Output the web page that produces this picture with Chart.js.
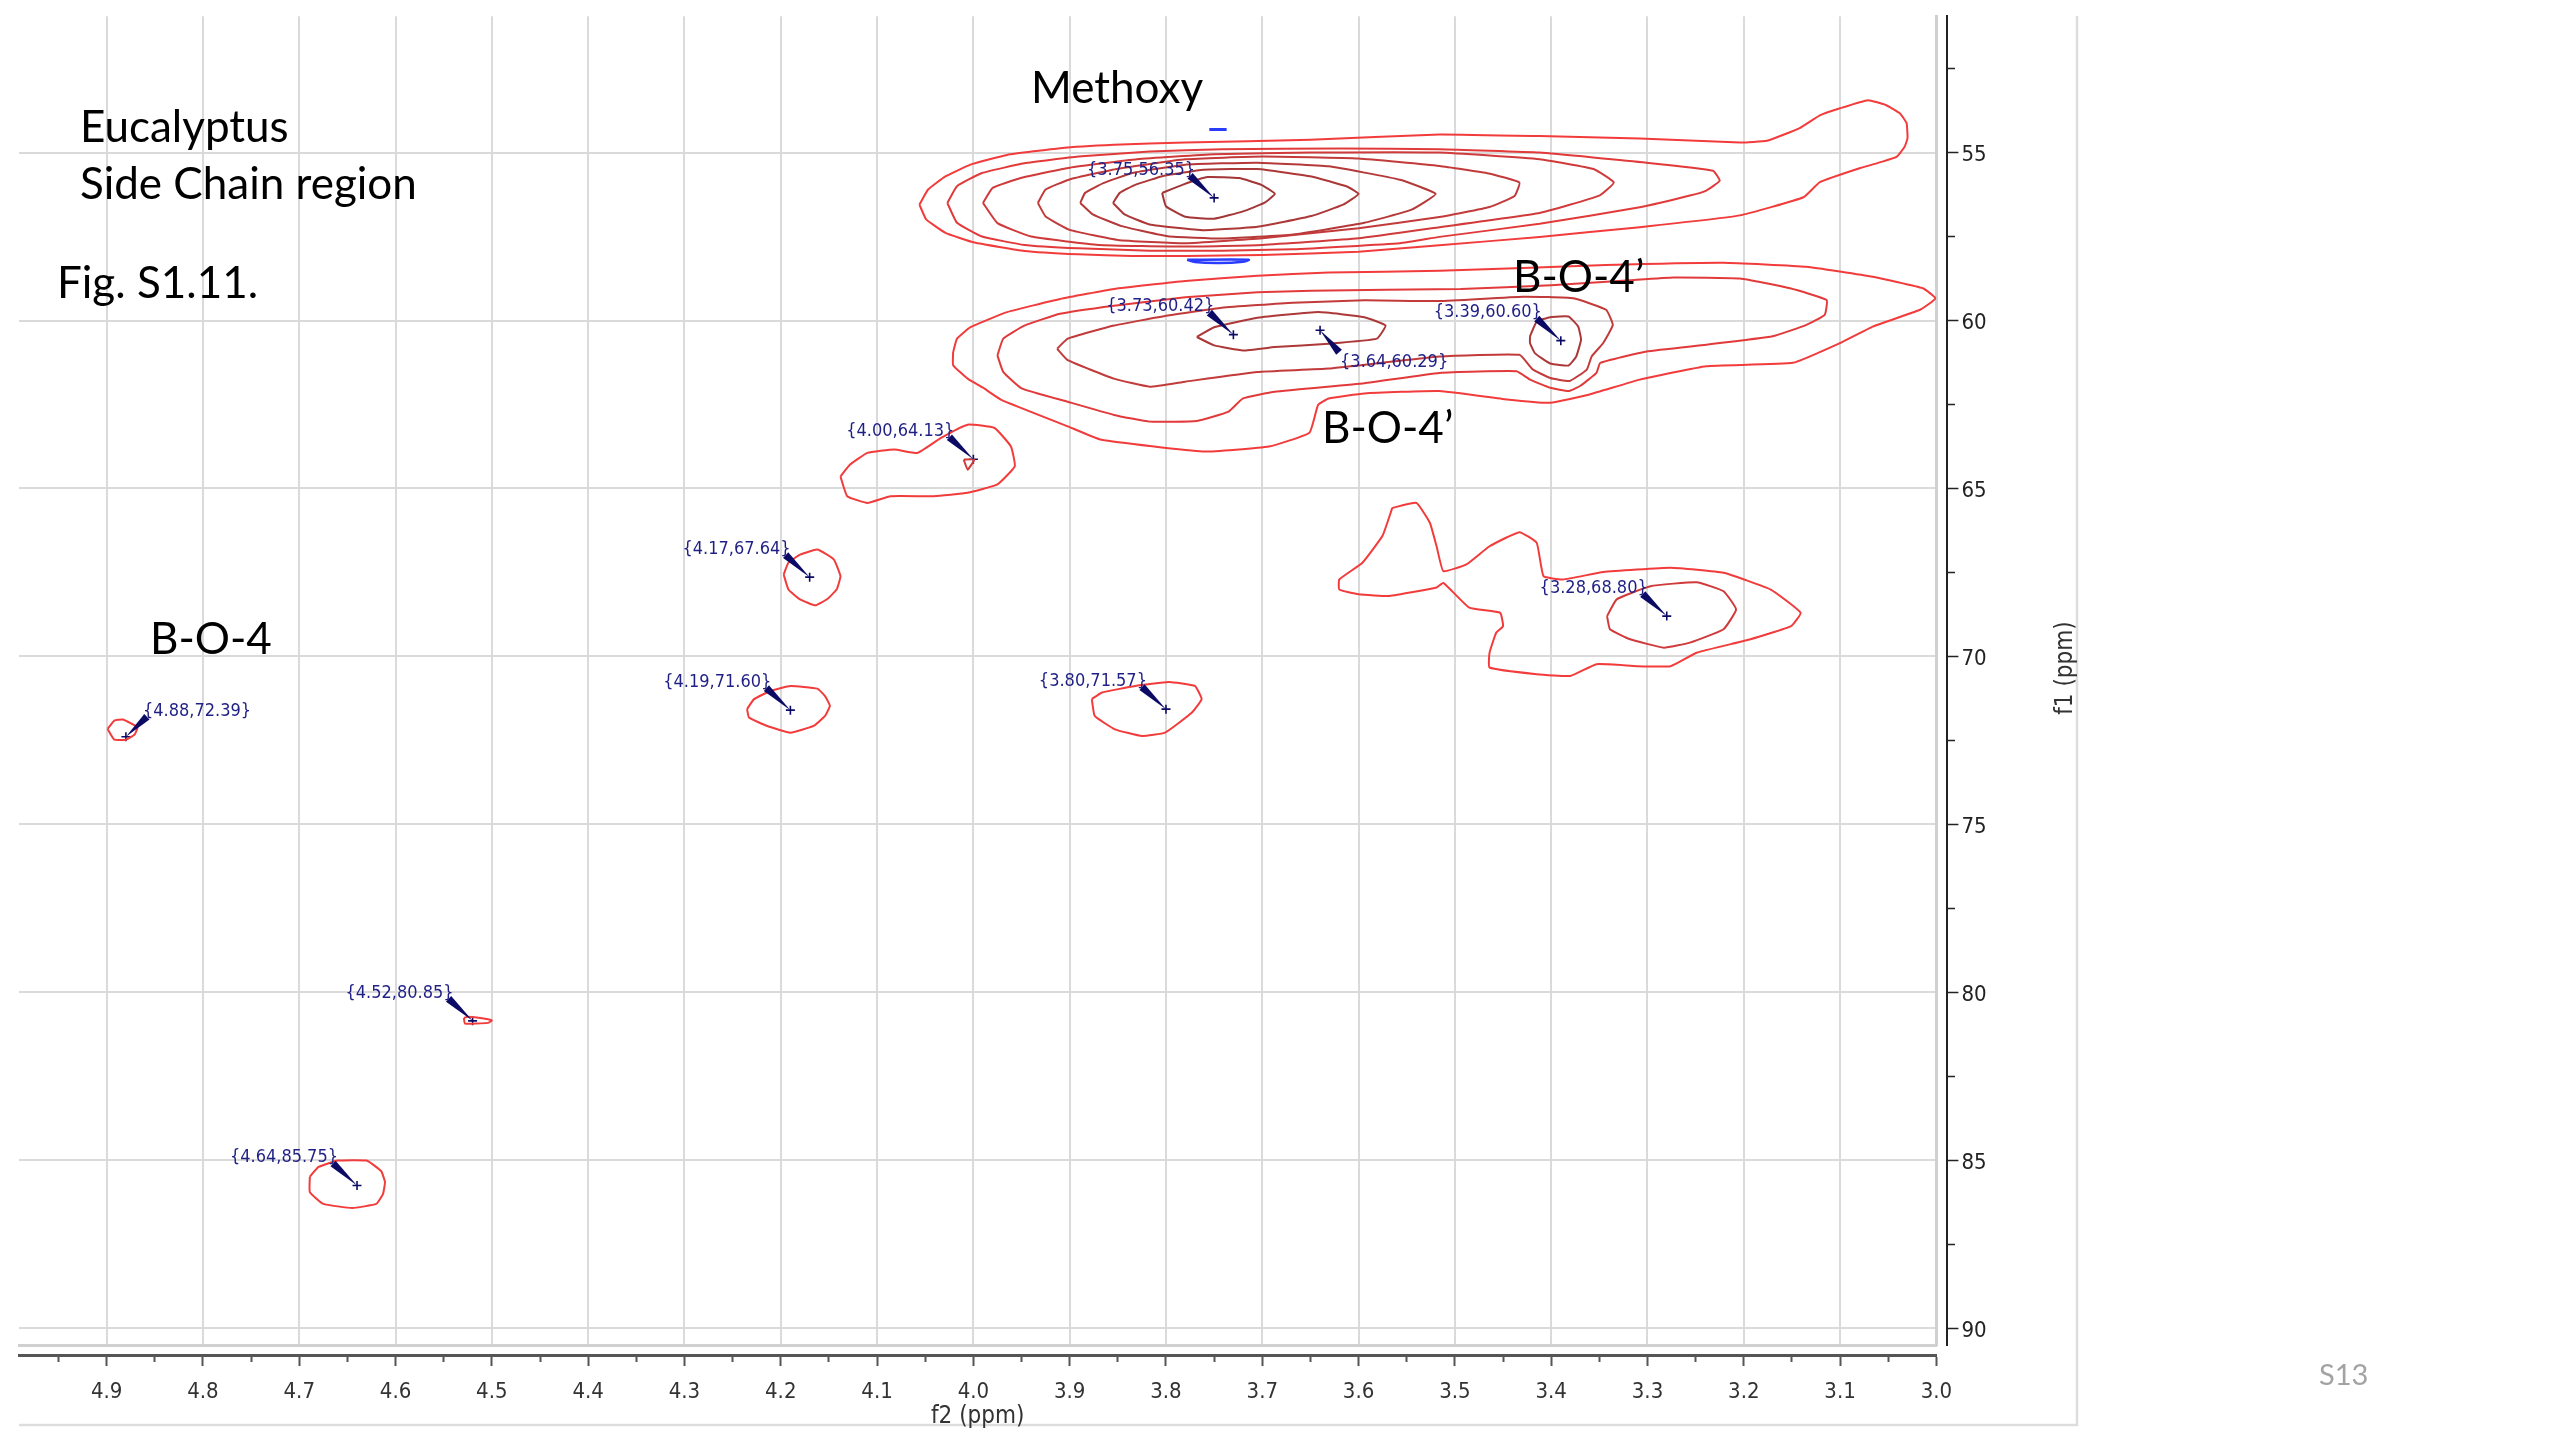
<!DOCTYPE html>
<html lang="en">
<head>
<meta charset="utf-8">
<title>Eucalyptus HSQC - side chain region</title>
<script src="https://cdn.jsdelivr.net/npm/chart.js@4.4.1/dist/chart.umd.min.js"></script>
<style>
  html, body { margin: 0; padding: 0; background: #ffffff; }
  canvas { display: block; }
</style>
</head>
<body>
<canvas id="hsqc" width="2560" height="1440"></canvas>
<script>
// ---- axis limits and tick spacing (ppm) ----
const f2Limits = [3.0, 4.991];
const f1Limits = [50.94, 90.5];
const f2MinorStep = 0.05, f2MajorStep = 0.1;
const f1MinorStep = 2.5, f1MajorStep = 5;

// ---- picked cross peaks: 1H (f2) and 13C (f1) shifts ----
const peakF2 = [3.75, 3.73, 3.64, 3.39, 4.00, 4.17, 3.28, 4.19, 3.80, 4.88, 4.52, 4.64];
const peakF1 = [56.35, 60.42, 60.29, 60.60, 64.13, 67.64, 68.80, 71.60, 71.57, 72.39, 80.85, 85.75];
const peakLabelSide = ['ul', 'ul', 'lr', 'ul', 'ul', 'ul', 'ul', 'ul', 'ul', 'ur', 'ul', 'ul'];

// ---- contour traces, [f2, f1] pairs ----
// methoxy cross peak, innermost level first
const methoxyL1 = [[3.804,56.20],[3.783,55.96],[3.757,55.73],[3.724,55.76],[3.701,55.96],[3.687,56.23],[3.698,56.50],[3.720,56.75],[3.750,56.97],[3.780,56.91],[3.800,56.60],[3.804,56.20]];
const methoxyL2 = [[3.855,56.50],[3.848,56.20],[3.832,55.96],[3.802,55.69],[3.761,55.51],[3.705,55.49],[3.649,55.71],[3.612,56.01],[3.600,56.23],[3.616,56.55],[3.649,56.89],[3.705,57.21],[3.761,57.31],[3.817,57.14],[3.843,56.84],[3.855,56.50]];
const methoxyL3 = [[3.889,56.50],[3.884,56.20],[3.865,55.91],[3.835,55.61],[3.780,55.36],[3.705,55.30],[3.631,55.41],[3.557,55.81],[3.520,56.23],[3.545,56.70],[3.594,57.09],[3.668,57.44],[3.742,57.56],[3.798,57.49],[3.846,57.19],[3.876,56.84],[3.889,56.50]];
const methoxyL4 = [[3.933,56.50],[3.925,56.10],[3.900,55.80],[3.850,55.48],[3.780,55.20],[3.700,55.12],[3.600,55.18],[3.516,55.40],[3.465,55.62],[3.433,55.89],[3.438,56.29],[3.464,56.62],[3.516,56.92],[3.600,57.25],[3.700,57.55],[3.780,57.70],[3.850,57.60],[3.900,57.30],[3.925,56.90],[3.933,56.50]];
const methoxyL5 = [[3.990,56.50],[3.980,56.05],[3.950,55.75],[3.900,55.45],[3.830,55.20],[3.750,55.05],[3.650,55.00],[3.516,55.00],[3.412,55.20],[3.356,55.49],[3.335,55.89],[3.350,56.28],[3.412,56.80],[3.516,57.22],[3.600,57.55],[3.700,57.75],[3.780,57.80],[3.870,57.75],[3.940,57.50],[3.975,57.10],[3.990,56.50]];
const methoxyL6 = [[4.027,56.50],[4.017,56.00],[3.991,55.61],[3.947,55.32],[3.891,55.12],[3.817,54.97],[3.742,54.90],[3.620,54.88],[3.516,54.90],[3.412,55.00],[3.301,55.30],[3.232,55.54],[3.225,55.84],[3.239,56.13],[3.256,56.28],[3.308,56.63],[3.412,57.12],[3.516,57.51],[3.557,57.70],[3.668,57.88],[3.742,57.92],[3.817,57.92],[3.891,57.85],[3.947,57.75],[3.991,57.50],[4.017,57.09],[4.027,56.50]];
const methoxyL7 = [[4.056,56.55],[4.047,56.10],[4.029,55.71],[4.003,55.36],[3.965,55.07],[3.910,54.87],[3.854,54.77],[3.780,54.70],[3.650,54.62],[3.516,54.46],[3.412,54.51],[3.308,54.58],[3.204,54.70],[3.176,54.65],[3.142,54.27],[3.121,53.89],[3.100,53.68],[3.071,53.44],[3.052,53.59],[3.038,53.83],[3.031,54.12],[3.030,54.57],[3.033,54.83],[3.041,55.12],[3.056,55.27],[3.079,55.46],[3.121,55.88],[3.138,56.33],[3.204,56.87],[3.308,57.22],[3.412,57.51],[3.516,57.76],[3.600,57.95],[3.700,58.05],[3.780,58.08],[3.835,58.08],[3.891,58.03],[3.947,57.93],[3.999,57.68],[4.029,57.39],[4.049,56.99],[4.056,56.55]];

// B-O-4' gamma region around 60 ppm
const gammaL1 = [[3.768,60.49],[3.750,60.20],[3.705,59.92],[3.642,59.75],[3.594,59.90],[3.572,60.15],[3.581,60.54],[3.631,60.69],[3.687,60.79],[3.720,60.89],[3.750,60.74],[3.768,60.49]];
const gammaL2 = [[3.913,60.84],[3.902,60.54],[3.854,60.15],[3.798,59.85],[3.742,59.62],[3.668,59.47],[3.594,59.40],[3.516,59.42],[3.429,59.29],[3.377,59.34],[3.343,59.68],[3.336,60.13],[3.346,60.67],[3.358,61.07],[3.363,61.46],[3.381,61.80],[3.401,61.71],[3.419,61.46],[3.433,61.02],[3.516,61.07],[3.631,61.43],[3.705,61.53],[3.780,61.82],[3.817,61.97],[3.854,61.73],[3.902,61.18],[3.913,60.84]];
const gammaL3 = [[3.975,61.04],[3.969,60.54],[3.947,60.15],[3.910,59.80],[3.854,59.56],[3.780,59.31],[3.705,59.16],[3.649,59.11],[3.494,59.06],[3.400,58.95],[3.318,58.80],[3.273,58.72],[3.204,58.75],[3.152,59.04],[3.114,59.39],[3.116,59.83],[3.135,60.13],[3.170,60.47],[3.239,60.72],[3.301,60.92],[3.349,61.26],[3.353,61.56],[3.370,61.95],[3.382,62.10],[3.401,62.00],[3.422,61.76],[3.436,61.51],[3.516,61.56],[3.594,61.87],[3.687,62.12],[3.720,62.32],[3.735,62.71],[3.768,62.99],[3.817,63.01],[3.854,62.81],[3.902,62.42],[3.950,62.02],[3.969,61.53],[3.975,61.04]];
const gammaL4 = [[4.021,60.94],[4.017,60.54],[4.003,60.20],[3.965,59.75],[3.910,59.36],[3.854,59.06],[3.780,58.82],[3.705,58.67],[3.631,58.57],[3.516,58.52],[3.343,58.35],[3.221,58.28],[3.135,58.40],[3.066,58.70],[3.014,59.04],[3.001,59.34],[3.017,59.68],[3.066,60.18],[3.100,60.67],[3.149,61.26],[3.239,61.36],[3.308,61.76],[3.360,62.20],[3.401,62.45],[3.446,62.35],[3.516,62.10],[3.594,62.17],[3.631,62.32],[3.642,62.51],[3.651,63.34],[3.693,63.75],[3.762,63.90],[3.867,63.55],[3.902,63.15],[3.971,62.36],[3.990,62.00],[4.006,61.73],[4.021,61.33],[4.021,60.94]];
const gamma339 = [[3.422,60.47],[3.415,60.03],[3.401,59.90],[3.382,59.88],[3.372,60.18],[3.369,60.57],[3.374,61.07],[3.382,61.34],[3.401,61.28],[3.417,60.97],[3.422,60.67],[3.422,60.47]];

// isolated cross peaks
const peak400 = [[4.138,64.64],[4.131,65.23],[4.110,65.43],[4.086,65.23],[4.041,65.23],[4.006,65.13],[3.975,64.88],[3.957,64.34],[3.961,63.75],[3.978,63.20],[4.006,63.10],[4.034,63.50],[4.058,63.94],[4.082,63.84],[4.110,63.94],[4.128,64.29],[4.138,64.64]];
const peak400core = [[4.010,64.14],[4.006,64.44],[3.999,64.14],[4.010,64.14]];
const peak417 = [[4.197,67.56],[4.192,67.21],[4.180,66.97],[4.162,66.82],[4.145,67.11],[4.138,67.61],[4.142,68.01],[4.152,68.30],[4.164,68.48],[4.180,68.30],[4.192,68.01],[4.197,67.56]];
const peak419 = [[4.235,71.57],[4.228,71.28],[4.211,71.03],[4.190,70.88],[4.162,70.96],[4.154,71.18],[4.149,71.47],[4.154,71.77],[4.166,72.07],[4.190,72.27],[4.214,72.07],[4.233,71.82],[4.235,71.57]];
const peak380 = [[3.877,71.27],[3.867,71.08],[3.832,70.88],[3.797,70.76],[3.770,70.88],[3.763,71.27],[3.773,71.67],[3.801,72.27],[3.825,72.37],[3.853,72.17],[3.874,71.77],[3.877,71.27]];
const peak328core = [[3.342,68.80],[3.332,68.30],[3.297,67.91],[3.249,67.79],[3.221,68.06],[3.208,68.60],[3.221,69.19],[3.256,69.59],[3.283,69.74],[3.318,69.49],[3.339,69.19],[3.342,68.80]];
const peak328outer = [[3.565,65.58],[3.540,65.43],[3.526,66.02],[3.519,66.72],[3.512,67.46],[3.488,67.26],[3.464,66.72],[3.433,66.30],[3.415,66.62],[3.408,67.61],[3.388,67.71],[3.346,67.49],[3.276,67.36],[3.221,67.51],[3.172,68.01],[3.141,68.70],[3.151,69.10],[3.193,69.49],[3.249,69.89],[3.276,70.29],[3.311,70.29],[3.353,70.23],[3.380,70.58],[3.415,70.53],[3.464,70.33],[3.464,69.89],[3.457,69.29],[3.450,69.10],[3.453,68.70],[3.485,68.55],[3.512,67.81],[3.519,67.95],[3.568,68.20],[3.600,68.15],[3.620,68.01],[3.620,67.71],[3.596,67.21],[3.575,66.40],[3.565,65.58]];
const peak488 = [[4.899,72.16],[4.892,71.91],[4.883,71.88],[4.868,72.11],[4.871,72.33],[4.880,72.48],[4.892,72.48],[4.899,72.16]];
const peak452 = [[4.529,80.76],[4.525,80.73],[4.504,80.80],[4.500,80.84],[4.504,80.91],[4.528,80.93],[4.529,80.76]];
const peak464 = [[4.689,85.49],[4.680,85.20],[4.660,85.01],[4.630,85.01],[4.615,85.32],[4.611,85.65],[4.613,86.00],[4.620,86.30],[4.645,86.42],[4.675,86.30],[4.689,85.95],[4.689,85.49]];

// negative-phase traces beside the methoxy peak
const negUpper = [[3.755,54.31],[3.737,54.31]];
const negLower = [[3.778,58.19],[3.714,58.19],[3.720,58.25],[3.745,58.29],[3.770,58.26],[3.778,58.19]];

// free-text annotations
const noteTexts = ['Eucalyptus', 'Side Chain region', 'Fig. S1.11.', 'Methoxy', 'B-O-4\u2019', 'B-O-4\u2019', 'B-O-4'];
const pageMark = 'S13';
const f2Title = 'f2 (ppm)';
const f1Title = 'f1 (ppm)';

// ---------------- styling ----------------
const levelColors = ['#f23b3b', '#e23a3a', '#d03a3a', '#c23a3a', '#b63939', '#ac3838', '#a33636'];
const contourSet = [
  [methoxyL7, 0], [methoxyL6, 1], [methoxyL5, 2], [methoxyL4, 3], [methoxyL3, 4], [methoxyL2, 5], [methoxyL1, 6],
  [gammaL4, 0], [gammaL3, 1], [gammaL2, 3], [gammaL1, 5], [gamma339, 5],
  [peak400, 0], [peak400core, 2], [peak417, 0], [peak419, 0], [peak380, 0],
  [peak328outer, 0], [peak328core, 2], [peak488, 0], [peak452, 0], [peak464, 0]
];
const negativeSet = [[negUpper, 3], [negLower, 2.5]];

const notePos = [
  {x: 80, y: 142}, {x: 80, y: 199}, {x: 57, y: 298}, {x: 1031, y: 103},
  {x: 1513, y: 292}, {x: 1322, y: 443}, {x: 150, y: 654}
];
const noteFont = '44px Lato, "Open Sans", sans-serif';
const axisFamily = '"DejaVu Sans Condensed", "DejaVu Sans", sans-serif';
const peakInk = '#1f1f85';
const wedgeInk = '#0b0b66';

const onStep = (v, step) => Math.abs(v / step - Math.round(v / step)) < 1e-6;

const datasets = contourSet.map(([pts, lvl]) => ({
  data: pts,
  showLine: true,
  borderColor: levelColors[lvl],
  borderWidth: 2,
  pointRadius: 0,
  tension: 0.12,
  fill: false
}));
negativeSet.forEach(([pts, w]) => datasets.push({
  data: pts, showLine: true, borderColor: '#2a3cff', borderWidth: w,
  pointRadius: 0, tension: 0.2, fill: false
}));
datasets.push({
  data: peakF2.map((v, i) => [v, peakF1[i]]),
  showLine: false,
  pointStyle: 'cross',
  pointRadius: 4.5,
  borderColor: wedgeInk,
  borderWidth: 1.6,
  backgroundColor: wedgeInk
});

// peak labels with pointer wedges, free text, page frame and the f1 title
const decorations = {
  id: 'decorations',
  beforeDraw(chart) {
    const ctx = chart.ctx;
    ctx.save();
    ctx.fillStyle = '#ffffff';
    ctx.fillRect(0, 0, chart.width, chart.height);
    ctx.strokeStyle = '#dddddd';
    ctx.lineWidth = 2.5;
    ctx.beginPath();
    ctx.moveTo(19, 1425);
    ctx.lineTo(2077, 1425);
    ctx.lineTo(2077, 16);
    ctx.stroke();
    ctx.restore();
  },
  afterDatasetsDraw(chart) {
    const ctx = chart.ctx;
    const xs = chart.scales.x, ys = chart.scales.y;
    ctx.save();
    ctx.font = '18px ' + axisFamily;
    ctx.textBaseline = 'middle';
    peakF2.forEach((v, i) => {
      const px = xs.getPixelForValue(v);
      const py = ys.getPixelForValue(peakF1[i]);
      const label = '{' + v.toFixed(2) + ',' + peakF1[i].toFixed(2) + '}';
      const side = peakLabelSide[i];
      let tx, ty, bx, by, align;
      if (side === 'ur') { tx = px + 17; ty = py - 25; bx = px + 21; by = py - 20; align = 'left'; }
      else if (side === 'lr') { tx = px + 20; ty = py + 32; bx = px + 19; by = py + 22; align = 'left'; }
      else { tx = px - 19; ty = py - 28; bx = px - 24; by = py - 22; align = 'right'; }
      const dx = px - bx, dy = py - by, len = Math.hypot(dx, dy);
      const nx = -dy / len * 3.8, ny = dx / len * 3.8;
      ctx.fillStyle = wedgeInk;
      ctx.beginPath();
      ctx.moveTo(bx + nx, by + ny);
      ctx.lineTo(bx - nx, by - ny);
      ctx.lineTo(px, py);
      ctx.closePath();
      ctx.fill();
      ctx.fillStyle = peakInk;
      ctx.textAlign = align;
      ctx.fillText(label, tx, ty);
    });
    ctx.restore();
  },
  afterDraw(chart) {
    const ctx = chart.ctx;
    ctx.save();
    ctx.fillStyle = '#000000';
    ctx.font = noteFont;
    ctx.textAlign = 'left';
    ctx.textBaseline = 'alphabetic';
    noteTexts.forEach((t, i) => ctx.fillText(t, notePos[i].x, notePos[i].y));

    ctx.fillStyle = '#a3a3a3';
    ctx.font = '29px Lato, "Open Sans", sans-serif';
    ctx.fillText(pageMark, 2319, 1385);

    const y2 = chart.scales.y2;
    ctx.translate(y2.left + 118, 668);
    ctx.rotate(-Math.PI / 2);
    ctx.fillStyle = '#333333';
    ctx.font = '24px ' + axisFamily;
    ctx.textAlign = 'center';
    ctx.textBaseline = 'middle';
    ctx.fillText(f1Title, 0, 0);
    ctx.restore();
  }
};

new Chart(document.getElementById('hsqc'), {
  type: 'scatter',
  data: { datasets },
  plugins: [decorations],
  options: {
    responsive: false,
    animation: false,
    devicePixelRatio: 1,
    events: [],
    layout: { autoPadding: false, padding: { left: 19, top: 16, right: 482.6, bottom: 0 } },
    plugins: { legend: { display: false }, tooltip: { enabled: false } },
    scales: {
      // inner scales carry the data and the grid
      x: {
        type: 'linear', position: 'bottom', weight: 0, reverse: true,
        min: f2Limits[0], max: f2Limits[1],
        afterFit: s => { s.height = 10; },
        ticks: { display: false, stepSize: f2MajorStep, includeBounds: false, autoSkip: false },
        grid: { drawTicks: false, color: '#dadada', lineWidth: 2 },
        border: { display: true, color: '#d0d0d0', width: 3 }
      },
      y: {
        type: 'linear', position: 'right', weight: 0, reverse: true,
        min: f1Limits[0], max: f1Limits[1],
        afterFit: s => { s.width = 11; },
        ticks: { display: false, stepSize: f1MajorStep, includeBounds: false, autoSkip: false },
        grid: { drawTicks: false, color: '#dadada', lineWidth: 2 },
        border: { display: true, color: '#d0d0d0', width: 3 }
      },
      // outer scales draw the axis lines, tick marks and labels
      x2: {
        type: 'linear', position: 'bottom', weight: 1, reverse: true,
        min: f2Limits[0], max: f2Limits[1],
        afterFit: s => { s.height = 85; },
        ticks: {
          stepSize: f2MinorStep, includeBounds: false, autoSkip: false, maxRotation: 0,
          padding: 13, color: '#333333', font: { family: axisFamily, size: 22 },
          callback: v => onStep(v, f2MajorStep) ? Number(v).toFixed(1) : ''
        },
        grid: {
          drawOnChartArea: false, drawTicks: true, tickLength: 11, tickWidth: 2, tickColor: '#555555',
          tickBorderDash: c => onStep(c.tick.value, f2MajorStep) ? [] : [5, 40]
        },
        border: { display: true, color: '#555555', width: 3 },
        title: { display: true, text: f2Title, color: '#333333', font: { family: axisFamily, size: 24 }, padding: { top: 0, bottom: 9 } }
      },
      y2: {
        type: 'linear', position: 'right', weight: 1, reverse: true,
        min: f1Limits[0], max: f1Limits[1],
        afterFit: s => { s.width = 130; },
        ticks: {
          stepSize: f1MinorStep, includeBounds: false, autoSkip: false,
          padding: 3, labelOffset: 3, color: '#222222', font: { family: axisFamily, size: 22 },
          callback: v => onStep(v, f1MajorStep) ? String(Math.round(v)) : ''
        },
        grid: {
          drawOnChartArea: false, drawTicks: true, tickLength: 11, tickWidth: 1.5, tickColor: '#222222',
          tickBorderDash: c => onStep(c.tick.value, f1MajorStep) ? [] : [7, 40]
        },
        border: { display: true, color: '#222222', width: 2 }
      }
    }
  }
});
</script>
</body>
</html>
